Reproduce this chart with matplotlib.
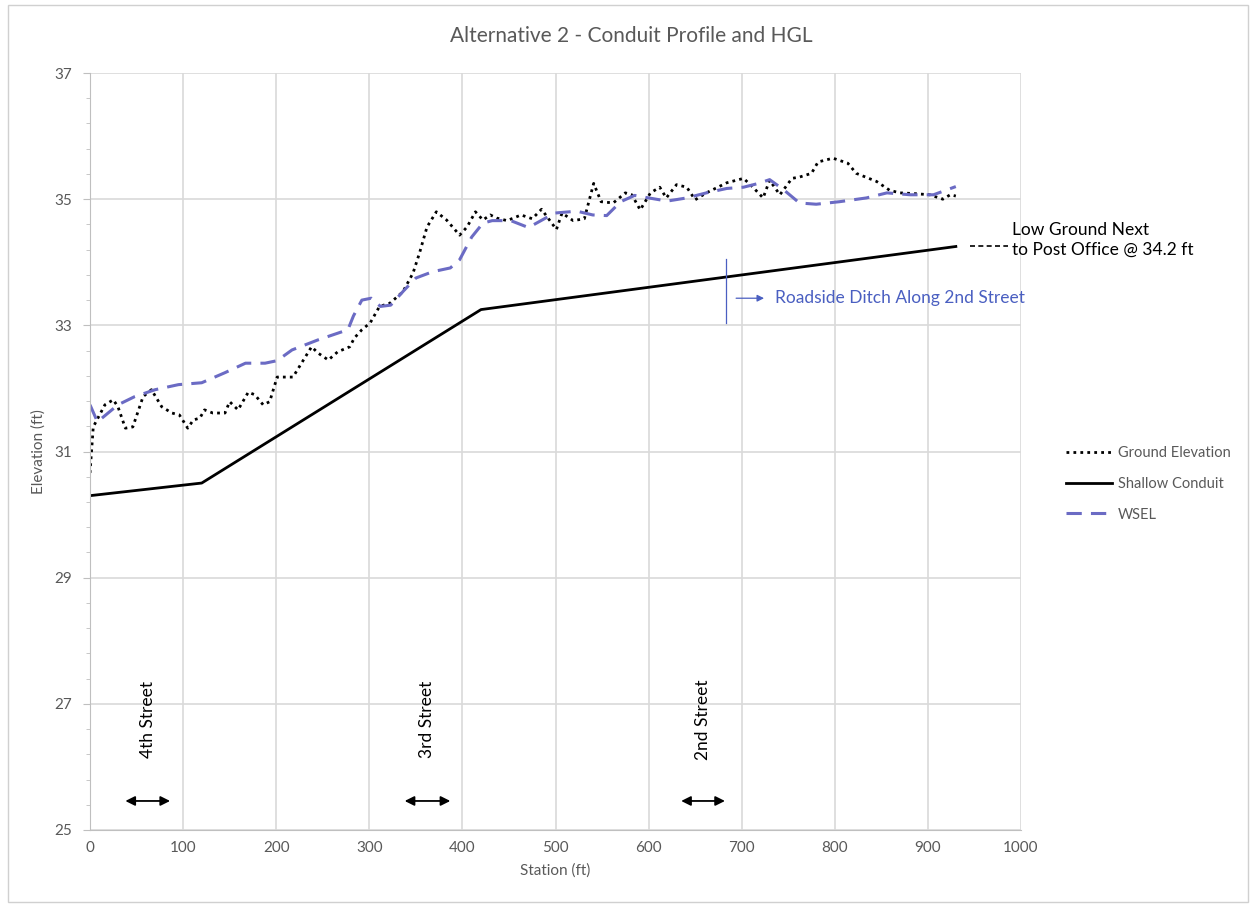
import numpy as np
import matplotlib.pyplot as plt
from matplotlib.patches import Rectangle

plt.rcParams['font.family'] = ['Lato', 'DejaVu Sans']

# station (ft) / elevation (ft)
ground_x = [0, 3.5, 16, 25, 30, 38, 46, 57, 66, 77, 88, 96, 105, 111, 118, 123, 132, 145,
            150, 159, 170, 177, 186, 193, 201, 209, 218, 238, 245, 256, 266, 279, 284, 292,
            301, 311, 322, 336, 347, 354, 362, 372, 383, 397, 405, 414, 422, 430, 437, 448,
            463, 475, 485, 501, 507, 519, 531, 541, 549, 562, 575, 582, 591, 602, 612, 619,
            630, 641, 650, 662, 684, 702, 712, 723, 730, 741, 754, 762, 775, 782, 798, 814,
            823, 845, 859, 870, 884, 902, 916, 924, 930]
ground_y = [30.66, 31.39, 31.74, 31.82, 31.71, 31.37, 31.39, 31.87, 31.98, 31.71, 31.61,
            31.58, 31.37, 31.50, 31.53, 31.66, 31.61, 31.61, 31.79, 31.66, 31.94, 31.90,
            31.74, 31.79, 32.18, 32.18, 32.18, 32.66, 32.56, 32.45, 32.58, 32.66, 32.80,
            32.93, 33.04, 33.30, 33.35, 33.53, 33.83, 34.15, 34.56, 34.80, 34.67, 34.43,
            34.56, 34.80, 34.67, 34.75, 34.70, 34.66, 34.75, 34.69, 34.84, 34.52, 34.78,
            34.66, 34.69, 35.25, 34.96, 34.94, 35.10, 35.07, 34.83, 35.10, 35.19, 35.02,
            35.23, 35.19, 34.99, 35.10, 35.26, 35.33, 35.19, 35.02, 35.30, 35.07, 35.33,
            35.35, 35.41, 35.59, 35.65, 35.57, 35.41, 35.28, 35.14, 35.10, 35.09, 35.07,
            35.00, 35.07, 35.05]

conduit_x = [0, 120, 420, 930]
conduit_y = [30.30, 30.50, 33.25, 34.25]

wsel_x = [0, 8, 30, 48, 70, 95, 120, 145, 167, 188, 201, 217, 245, 277, 283, 292, 302, 312,
          323, 337, 350, 368, 387, 397, 410, 422, 432, 452, 471, 499, 523, 540, 555, 570,
          585, 600, 620, 641, 662, 684, 702, 718, 730, 745, 762, 780, 805, 834, 856, 881,
          906, 930]
wsel_y = [31.74, 31.47, 31.74, 31.87, 31.98, 32.06, 32.09, 32.25, 32.40, 32.40, 32.44,
          32.61, 32.77, 32.93, 33.15, 33.40, 33.43, 33.30, 33.32, 33.55, 33.75, 33.85,
          33.91, 34.04, 34.40, 34.62, 34.66, 34.66, 34.55, 34.78, 34.81, 34.75, 34.74,
          34.96, 35.06, 35.02, 34.97, 35.02, 35.10, 35.17, 35.19, 35.25, 35.31, 35.15,
          34.94, 34.92, 34.96, 35.02, 35.10, 35.07, 35.07, 35.20]

y_ticks = [25, 27, 29, 31, 33, 35, 37]
x_ticks = [0, 100, 200, 300, 400, 500, 600, 700, 800, 900, 1000]

streets = ["4th Street", "3rd Street", "2nd Street"]
street_left = [38, 338, 635]
street_right = [86, 387, 682]

gray = '#595959'
blue = '#4a5fc1'

fig = plt.figure(figsize=(12.5, 9.06), dpi=100)
ax = fig.add_axes([0.072, 0.0839, 0.7448, 0.8355])

ax.plot(ground_x, ground_y, color='black', linestyle=(0, (1, 1.5)), linewidth=2,
        label='Ground Elevation')
ax.plot(conduit_x, conduit_y, color='black', linewidth=2, label='Shallow Conduit')
ax.plot(wsel_x, wsel_y, color='#6b6bc4', linestyle=(0, (5, 3)), linewidth=2.2,
        label='WSEL')

ax.set_xlim(0, 1000)
ax.set_ylim(25, 37)
ax.set_xticks(x_ticks)
ax.set_yticks(y_ticks)
ax.set_yticks(np.arange(25, 37.01, 0.4), minor=True)
ax.grid(True, color='#d9d9d9', linewidth=1.2)
ax.set_axisbelow(True)
for s in ['top', 'right']:
    ax.spines[s].set_visible(False)
for s in ['left', 'bottom']:
    ax.spines[s].set_color('#bfbfbf')
ax.tick_params(axis='both', colors=gray, labelsize=11, length=0, pad=8)
ax.tick_params(axis='y', which='minor', length=3, color='#bfbfbf')
ax.tick_params(axis='y', which='major', length=5, color='#bfbfbf')

ax.set_xlabel('Station (ft)', color=gray, fontsize=11, labelpad=6)
ax.set_ylabel('Elevation (ft)', color=gray, fontsize=11, labelpad=6)
fig.text(0.505, 0.96, 'Alternative 2 - Conduit Profile and HGL', ha='center', va='center',
         color=gray, fontsize=15)

# street crossings
for name, a, b in zip(streets, street_left, street_right):
    ax.annotate('', xy=(a, 25.46), xytext=(b, 25.46),
                arrowprops=dict(arrowstyle='<|-|>', color='black', lw=1.3,
                                mutation_scale=14, shrinkA=0, shrinkB=0))
    ax.text((a + b) / 2, 26.75, name, rotation=90, ha='center', va='center',
            fontsize=12.5, color='black')

# roadside ditch note
ax.plot([683, 683], [33.04, 34.05], color=blue, linewidth=0.9)
ax.annotate('', xy=(724, 33.43), xytext=(694, 33.43),
            arrowprops=dict(arrowstyle='-|>', color=blue, lw=0.9,
                            mutation_scale=10, shrinkA=0, shrinkB=0))
ax.text(736, 33.43, 'Roadside Ditch Along 2nd Street', color=blue, fontsize=12.5,
        va='center', ha='left')

# low ground note
ax.plot([945, 986], [34.25, 34.25], color='black', linestyle=(0, (3, 2)), linewidth=1.2,
        clip_on=False)
ax.text(990, 34.35, 'Low Ground Next\nto Post Office @ 34.2 ft', color='black',
        fontsize=12.5, ha='left', va='center', linespacing=1.3, clip_on=False)

leg = fig.legend(loc='center left', bbox_to_anchor=(0.842, 0.466), frameon=False,
                 fontsize=10.5, handlelength=3.2, labelspacing=1.15, handletextpad=0.4)
for t in leg.get_texts():
    t.set_color(gray)

fig.patches.append(Rectangle((0.006, 0.004), 0.992, 0.99, transform=fig.transFigure,
                             fill=False, edgecolor='#d0d0d0', linewidth=1))

fig.savefig('out.png', dpi=100)
